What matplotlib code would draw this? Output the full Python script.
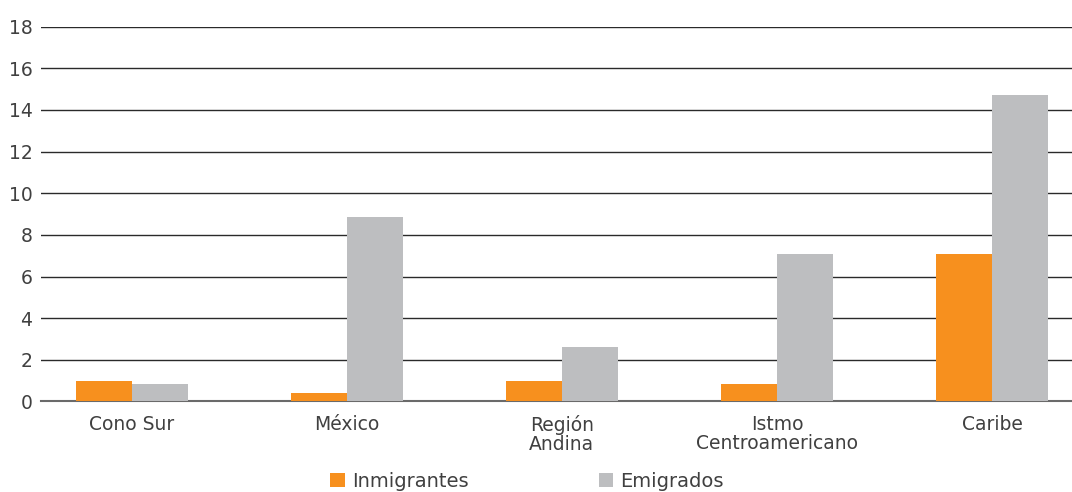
import numpy as np
import matplotlib
matplotlib.use("Agg")
from matplotlib import pyplot as plt

categories = ["Cono Sur", "México", "Región\nAndina", "Istmo\nCentroamericano", "Caribe"]
inmigrantes = [1.0, 0.4, 1.0, 0.85, 7.1]
emigrados = [0.85, 8.85, 2.6, 7.1, 14.7]
yticks = list(range(0, 20, 2))

ORANGE = "#F7901E"
GRAY = "#BDBEC0"
TEXT = "#404040"

plt.rcParams['font.family'] = ['DejaVu Sans']

fig = plt.figure(figsize=(10.72, 4.92), dpi=100)
ax = fig.add_axes([0.038, 0.184, 0.962, 0.762])

x = np.arange(len(categories))
w = 0.26
ax.bar(x - w / 2, inmigrantes, w, color=ORANGE, label="Inmigrantes", zorder=3)
ax.bar(x + w / 2, emigrados, w, color=GRAY, label="Emigrados", zorder=3)

ax.set_xlim(-0.423, 4.372)
ax.set_ylim(0, 18)
ax.set_yticks(yticks)
ax.set_xticks(x)
ax.set_xticklabels(categories, fontsize=13.5, color=TEXT, linespacing=0.95)
ax.tick_params(axis='y', labelsize=13.5, labelcolor=TEXT, length=0, pad=6)
ax.tick_params(axis='x', length=0, pad=10)
ax.grid(axis='y', color="#2a2a2a", linewidth=1.0, zorder=0)
ax.axhline(0, color="#6a6a6a", linewidth=1.5, zorder=2, clip_on=False)
for s in ax.spines.values():
    s.set_visible(False)

fig.legend(loc='center', bbox_to_anchor=(0.4916, 0.022), ncol=2, frameon=False,
           fontsize=14, handlelength=0.75, handleheight=0.75, handletextpad=0.36,
           columnspacing=6.7, labelcolor=TEXT, borderpad=0)

fig.savefig("out.png", dpi=100)
